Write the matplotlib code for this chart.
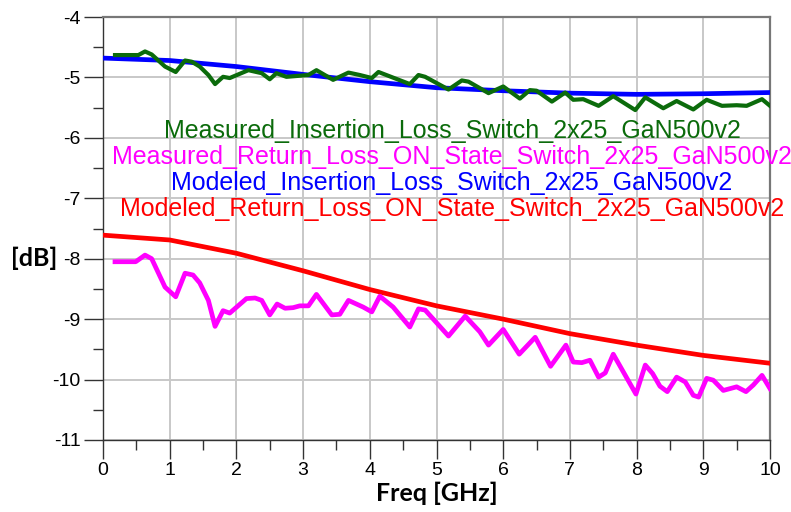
import numpy as np
import matplotlib.pyplot as plt

plt.rcParams['axes.unicode_minus'] = False

# ─── Data ─────────────────────────────────────────────────────────────────────
f_model = [0.0, 1.0, 2.0, 3.0, 4.0, 5.0, 6.0, 7.0, 8.0, 9.0, 10.0]
il_model = [-4.68, -4.72, -4.82, -4.95, -5.07, -5.17, -5.22, -5.26, -5.28, -5.27, -5.25]
rl_model = [-7.61, -7.69, -7.91, -8.20, -8.51, -8.78, -9.00, -9.24, -9.43, -9.60, -9.73]

f_il_meas = [0.18, 0.53, 0.63, 0.73, 0.93, 1.09, 1.23, 1.33, 1.45, 1.58, 1.68, 1.80,
             1.90, 2.18, 2.38, 2.50, 2.60, 2.75, 3.08, 3.20, 3.45, 3.68, 3.85, 4.03,
             4.13, 4.60, 4.73, 4.83, 5.18, 5.38, 5.48, 5.78, 6.00, 6.25, 6.40, 6.50,
             6.73, 6.93, 7.05, 7.20, 7.43, 7.65, 7.98, 8.13, 8.40, 8.60, 8.85, 9.05,
             9.28, 9.50, 9.65, 9.88, 10.0]
il_meas = [-4.63, -4.63, -4.57, -4.62, -4.82, -4.91, -4.72, -4.74, -4.82, -4.96, -5.11, -4.99,
           -5.01, -4.88, -4.93, -5.03, -4.93, -4.99, -4.96, -4.88, -5.04, -4.92, -4.96, -5.01,
           -4.91, -5.11, -4.96, -4.99, -5.20, -5.05, -5.07, -5.26, -5.15, -5.35, -5.21, -5.22,
           -5.40, -5.25, -5.37, -5.36, -5.47, -5.31, -5.54, -5.33, -5.51, -5.39, -5.53, -5.37,
           -5.47, -5.46, -5.47, -5.36, -5.47]

f_rl_meas = [0.18, 0.49, 0.63, 0.73, 0.93, 1.09, 1.23, 1.35, 1.45, 1.58, 1.68, 1.80,
             1.90, 2.15, 2.28, 2.38, 2.50, 2.61, 2.73, 2.85, 2.95, 3.08, 3.20, 3.43,
             3.55, 3.68, 3.90, 4.03, 4.15, 4.35, 4.60, 4.73, 4.83, 5.18, 5.43, 5.65,
             5.78, 6.00, 6.24, 6.48, 6.71, 6.94, 7.05, 7.18, 7.30, 7.43, 7.53, 7.65,
             7.99, 8.13, 8.24, 8.35, 8.46, 8.60, 8.73, 8.85, 8.93, 9.05, 9.15, 9.30,
             9.50, 9.64, 9.75, 9.88, 10.0]
rl_meas = [-8.05, -8.05, -7.94, -8.00, -8.47, -8.63, -8.24, -8.27, -8.40, -8.69, -9.12, -8.86,
           -8.90, -8.66, -8.65, -8.69, -8.93, -8.75, -8.82, -8.81, -8.78, -8.78, -8.59, -8.93,
           -8.92, -8.69, -8.80, -8.88, -8.62, -8.80, -9.13, -8.83, -8.85, -9.28, -8.95, -9.21,
           -9.43, -9.17, -9.58, -9.30, -9.78, -9.43, -9.71, -9.72, -9.68, -9.96, -9.89, -9.58,
           -10.24, -9.76, -9.90, -10.11, -10.20, -9.96, -10.04, -10.26, -10.29, -9.98, -10.01, -10.18,
           -10.12, -10.20, -10.09, -9.93, -10.15]

legend_labels = ['Measured_Insertion_Loss_Switch_2x25_GaN500v2',
                 'Measured_Return_Loss_ON_State_Switch_2x25_GaN500v2',
                 'Modeled_Insertion_Loss_Switch_2x25_GaN500v2',
                 'Modeled_Return_Loss_ON_State_Switch_2x25_GaN500v2']
legend_colors = ['#0b6b0b', '#ff00ff', '#0000ff', '#ff0000']

# ─── Figure ───────────────────────────────────────────────────────────────────
W, H = 791, 512
fig = plt.figure(figsize=(W / 100, H / 100), dpi=100)
ax = fig.add_axes([103 / W, 1 - 440 / H, (770 - 103) / W, (440 - 17) / H])

lw = 3.4
ax.plot(f_model, il_model, color='#0000ff', lw=lw, zorder=3)
ax.plot(f_il_meas, il_meas, color='#0b6b0b', lw=lw - 0.4, zorder=4)
ax.plot(np.linspace(0, 10, 101), np.interp(np.linspace(0, 10, 101), f_model, rl_model),
        color='#ff0000', lw=lw, zorder=3)
ax.plot(f_rl_meas, rl_meas, color='#ff00ff', lw=lw, zorder=4)

ax.set_xlim(0, 10)
ax.set_ylim(-11, -4)
ax.set_xticks(np.arange(0, 11, 1))
ax.set_xticks(np.arange(0.5, 10, 1), minor=True)
ax.set_yticks(np.arange(-11, -3, 1))
ax.set_yticks(np.arange(-10.5, -4, 1), minor=True)
ax.grid(True, which='major', color='#c8c8c8', lw=1.4, zorder=0)

for s in ['left', 'bottom']:
    ax.spines[s].set_color('#333333')
    ax.spines[s].set_linewidth(1.0)
for s in ['top', 'right']:
    ax.spines[s].set_color('#777777')
    ax.spines[s].set_linewidth(1.6)

ax.tick_params(which='major', length=14, width=1.0, color='#333333', pad=2,
               labelsize=14, labelfontfamily='Liberation Sans')
ax.tick_params(which='minor', length=7, width=1.0, color='#333333')

# legend as plain coloured text lines
for i, (lab, col) in enumerate(zip(legend_labels, legend_colors)):
    fig.text(452 / W, 1 - (131 + 26 * i) / H, lab, color=col, fontsize=18,
             family='Liberation Sans', ha='center', va='center')

fig.text(34 / W, 1 - 258 / H, '[dB]', fontsize=18, fontweight='bold',
         family='Lato', ha='center', va='center')
fig.text(437 / W, 1 - 493 / H, 'Freq [GHz]', fontsize=18, fontweight='bold',
         family='Lato', ha='center', va='center')

fig.savefig('out.png', dpi=100)
